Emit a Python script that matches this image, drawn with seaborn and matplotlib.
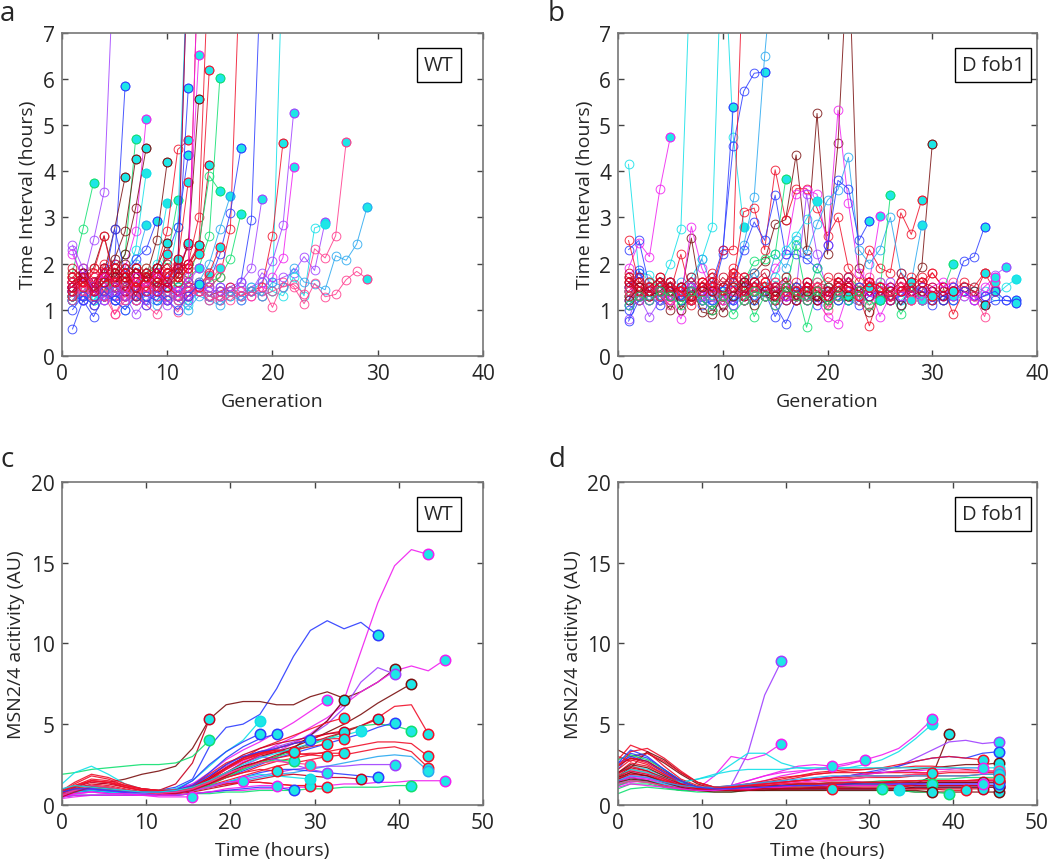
import matplotlib
matplotlib.use("Agg")
import matplotlib.pyplot as plt
import seaborn as sns

sns.set_style("ticks")
plt.rcParams["font.family"] = ["Open Sans", "DejaVu Sans"]

COL = {
    "red": "#f0102a", "pink": "#ff3a8c", "mag": "#f020f0", "pur": "#a040ff",
    "blue": "#2c3cff", "sky": "#28a8f0", "cyan": "#10e0e8", "green": "#10e070",
    "brown": "#7a1010", "dred": "#c80020",
}
END_FILL = "#1ee6e6"

# ---- panel a: WT, time interval per generation ----
A_COLORS = ["pur", "green", "blue", "green", "brown", "brown", "mag", "brown", "cyan", "sky",
            "blue", "brown", "cyan", "red", "green", "cyan", "blue", "blue", "red", "mag",
            "brown", "red", "red", "dred", "green", "green", "red", "sky", "blue", "green",
            "blue", "pur", "cyan", "red", "pur", "mag", "pur", "cyan", "pink", "sky",
            "pink", "blue",
            "dred", "red", "pink", "brown", "dred", "red", "mag", "pink", "dred", "red",
            "blue", "pur", "red", "dred"]
A_CELLS = [
    [2.3, 1.6, 2.5, 3.55, 9.0],
    [1.8, 2.75, 3.75],
    [1.5, 1.8, 1.6, 1.9, 2.0, 5.85],
    [1.4, 1.6, 1.5, 1.7, 1.8, 2.2, 4.7],
    [1.6, 1.7, 1.5, 1.8, 2.75, 3.87],
    [1.5, 1.8, 1.6, 1.7, 2.1, 2.7, 4.27],
    [1.4, 1.6, 1.3, 1.5, 1.7, 1.9, 2.7, 5.12],
    [1.7, 1.5, 1.6, 1.9, 1.8, 2.2, 3.2, 4.5],
    [1.3, 1.4, 1.2, 1.6, 1.5, 1.7, 2.3, 3.95],
    [1.2, 1.5, 1.4, 1.3, 1.6, 1.8, 2.0, 2.83],
    [1.3, 1.2, 1.4, 1.6, 2.75, 1.8, 2.1, 2.3, 2.93],
    [1.5, 1.7, 1.6, 1.4, 1.8, 1.5, 1.9, 1.7, 2.5, 4.2],
    [1.2, 1.4, 1.3, 1.5, 1.4, 1.6, 1.5, 1.8, 2.0, 3.32],
    [1.4, 1.6, 1.5, 1.3, 1.7, 1.6, 1.4, 1.8, 1.9, 2.7, 4.47, 4.67],
    [1.5, 1.3, 1.6, 1.4, 1.5, 1.7, 1.6, 1.9, 1.8, 2.1, 3.37],
    [1.3, 1.5, 1.4, 1.6, 1.5, 1.4, 1.7, 1.5, 1.8, 1.6, 2.8, 9.0],
    [1.5, 1.7, 1.4, 1.6, 1.3, 1.5, 1.8, 1.6, 1.9, 1.7, 2.0, 5.8],
    [1.2, 1.4, 1.6, 1.3, 1.5, 1.4, 1.6, 1.5, 1.7, 2.2, 2.8, 4.35],
    [1.6, 1.8, 1.5, 1.7, 1.4, 1.6, 1.9, 1.7, 1.6, 1.8, 2.0, 3.77],
    [1.4, 1.6, 1.3, 1.5, 1.7, 1.4, 1.6, 1.5, 1.8, 1.7, 1.9, 2.4, 6.52],
    [1.5, 1.7, 1.6, 1.4, 1.6, 1.8, 1.5, 1.7, 1.9, 1.6, 1.8, 2.4, 5.57],
    [1.6, 1.5, 1.7, 1.4, 1.6, 1.5, 1.8, 1.7, 1.5, 1.9, 1.8, 2.0, 3.0, 9.0],
    [1.4, 1.6, 1.5, 1.3, 1.5, 1.7, 1.4, 1.6, 1.5, 1.8, 1.6, 1.9, 2.4, 6.2],
    [1.3, 1.5, 1.4, 1.6, 1.7, 1.5, 1.4, 1.6, 1.8, 1.5, 1.7, 2.0, 2.3, 4.13],
    [1.3, 1.5, 1.4, 1.6, 1.5, 1.4, 1.6, 1.7, 1.5, 1.6, 1.8, 1.7, 1.9, 2.6, 6.02],
    [1.4, 1.3, 1.5, 1.4, 1.6, 1.5, 1.3, 1.5, 1.6, 1.7, 1.5, 1.6, 2.4, 3.9, 3.57],
    [1.5, 1.6, 1.4, 1.5, 1.3, 1.6, 1.5, 1.4, 1.6, 1.5, 1.7, 1.5, 1.6, 1.5, 1.7, 2.75, 9.0],
    [1.2, 1.4, 1.3, 1.2, 1.4, 1.3, 1.5, 1.4, 1.3, 1.4, 1.5, 1.4, 1.6, 2.0, 2.75, 3.47],
    [1.3, 1.2, 1.4, 1.3, 1.5, 1.4, 1.2, 1.4, 1.3, 1.5, 1.4, 1.3, 1.5, 1.6, 2.2, 3.1, 4.5],
    [1.4, 1.5, 1.3, 1.4, 1.6, 1.5, 1.4, 1.3, 1.5, 1.4, 1.6, 1.5, 1.4, 1.6, 1.7, 2.1, 3.07],
    [1.4, 1.3, 1.5, 1.4, 1.3, 1.5, 1.4, 1.6, 1.5, 1.3, 1.4, 1.5, 1.4, 1.3, 1.5, 1.4, 1.6, 2.95, 9.0],
    [1.5, 1.4, 1.6, 1.3, 1.5, 1.4, 1.3, 1.5, 1.4, 1.6, 1.3, 1.4, 1.5, 1.4, 1.3, 1.5, 1.6, 1.9, 3.4],
    [1.3, 1.4, 1.2, 1.4, 1.3, 1.2, 1.4, 1.3, 1.2, 1.4, 1.3, 1.5, 1.4, 1.3, 1.4, 1.3, 1.5, 1.4, 1.6, 1.4, 9.0],
    [1.3, 1.5, 1.4, 1.3, 1.5, 1.4, 1.6, 1.3, 1.4, 1.5, 1.3, 1.4, 1.5, 1.3, 1.4, 1.5, 1.3, 1.4, 1.5, 2.6, 4.62],
    [1.4, 1.2, 1.3, 1.5, 1.4, 1.3, 1.2, 1.4, 1.3, 1.5, 1.4, 1.2, 1.4, 1.3, 1.5, 1.4, 1.3, 1.5, 1.6, 2.05, 2.83, 5.25],
    [1.5, 1.3, 1.4, 1.2, 1.3, 1.4, 1.5, 1.3, 1.4, 1.2, 1.3, 1.5, 1.4, 1.3, 1.2, 1.4, 1.5, 1.3, 1.4, 1.7, 2.13, 4.1],
    [1.4, 1.3, 1.5, 1.4, 1.3, 1.2, 1.4, 1.3, 1.5, 1.4, 1.3, 1.2, 1.4, 1.5, 1.3, 1.4, 1.2, 1.4, 1.8, 1.6,
     1.7, 1.8, 2.15, 1.85, 2.9],
    [1.3, 1.4, 1.2, 1.3, 1.5, 1.4, 1.2, 1.3, 1.4, 1.2, 1.3, 1.1, 1.4, 1.3, 1.2, 1.4, 1.3, 1.5, 1.3, 1.4,
     1.3, 1.7, 1.3, 2.77, 2.85],
    [1.4, 1.3, 1.5, 1.4, 1.2, 1.3, 1.4, 1.5, 1.3, 1.4, 1.2, 1.3, 1.4, 1.3, 1.2, 1.4, 1.3, 1.4, 1.3, 1.4,
     1.5, 1.55, 1.35, 2.32, 2.12, 2.6, 4.63],
    [1.2, 1.3, 1.1, 1.3, 1.2, 1.0, 1.3, 1.2, 1.1, 1.3, 1.2, 1.0, 1.3, 1.2, 1.1, 1.3, 1.2, 1.4, 1.3, 1.6,
     1.5, 1.9, 1.6, 1.55, 1.43, 2.17, 2.07, 2.42, 3.23],
    [1.6, 1.4, 1.3, 1.5, 0.9, 1.3, 1.2, 1.4, 1.3, 1.2, 0.95, 1.3, 1.4, 1.2, 1.3, 1.2, 1.4, 1.3, 1.5, 1.05,
     1.6, 1.5, 1.13, 1.57, 1.28, 1.33, 1.65, 1.83, 1.67],
    [0.58, 1.2, 0.85, 1.3, 1.2, 1.5, 1.4, 1.3, 1.2, 1.5, 1.9, 9.0],
    [1.7, 1.9, 1.6, 1.8, 1.5, 1.7, 1.9, 1.6, 1.8, 2.0, 1.7, 2.45],
    [1.5, 1.8, 1.3, 1.6, 1.9, 1.4, 1.7, 1.5, 1.9, 1.6, 2.0, 1.8, 9.0],
    [1.2, 1.4, 1.1, 1.3, 0.9, 1.2, 1.4, 1.1, 0.9, 1.3, 1.2, 1.4, 1.5, 1.75],
    [1.6, 1.8, 1.9, 2.6, 1.7, 2.0, 1.8, 1.6, 1.9, 2.45],
    [1.4, 1.7, 1.5, 1.8, 1.6, 1.4, 1.8, 1.7, 1.5, 1.8, 1.9, 2.0, 2.4],
    [1.8, 1.6, 1.9, 1.7, 2.0, 1.8, 1.6, 1.9, 1.7, 2.2],
    [2.2, 1.7, 1.5, 1.8, 1.6, 1.3, 1.7, 1.5, 1.8, 1.6, 1.4, 1.7, 9.0],
    [1.6, 1.4, 1.7, 1.3, 1.6, 1.5, 1.2, 1.6, 1.4, 1.7, 1.3, 1.5, 1.4, 1.6, 1.9],
    [1.9, 1.7, 1.5, 1.9, 1.6, 1.8, 1.5, 1.7, 1.9, 1.6, 2.1],
    [1.3, 1.6, 1.4, 2.0, 1.5, 1.3, 1.6, 1.4, 1.7, 1.5, 1.3, 1.6, 1.5, 1.8, 2.35],
    [1.0, 1.3, 1.1, 1.4, 1.2, 1.0, 1.3, 1.1, 1.4, 1.2, 1.0, 1.3, 1.55],
    [2.4, 1.9, 1.4, 1.2, 1.5, 1.3, 0.9, 1.2, 1.4, 1.1, 1.3, 1.6, 1.9],
    [1.7, 1.5, 1.8, 2.6, 1.6, 1.9, 1.5, 1.7, 1.4, 1.8, 1.6, 1.9, 2.2],
    [1.5, 1.7, 1.4, 1.6, 1.9, 1.7, 1.3, 1.8, 1.6, 1.5, 1.8, 9.0],
]

# ---- panel b: D fob1, time interval per generation ----
B_COLORS = ["cyan", "mag", "cyan", "blue", "blue", "sky", "red", "brown", "red", "mag",
            "sky", "blue", "green", "green", "blue", "pur", "cyan", "blue", "green", "cyan",
            "mag", "red", "brown", "pink", "pur", "red", "green", "blue", "dred", "mag",
            "dred", "red", "pink", "brown", "dred", "red", "green"]
B_CELLS = [
    [4.15, 1.8, 1.75, 1.5, 2.0, 2.75, 9.0],
    [1.9, 2.45, 2.15, 3.62, 4.75],
    [1.3, 1.5, 1.4, 1.6, 1.5, 1.4, 1.7, 2.1, 2.8, 9.5, 4.75, 2.8],
    [2.3, 2.5, 1.5, 1.4, 1.3, 1.4, 1.2, 1.5, 1.3, 2.2, 5.4],
    [1.2, 1.85, 1.4, 1.5, 1.6, 1.3, 1.4, 1.5, 1.6, 2.3, 4.55, 5.73, 6.12, 6.15],
    [1.5, 1.4, 1.3, 1.5, 1.2, 1.6, 1.4, 1.3, 1.5, 1.4, 1.6, 2.4, 3.45, 6.5, 9.0],
    [2.5, 1.6, 1.4, 1.5, 1.3, 1.4, 1.2, 1.5, 1.4, 2.3, 2.3, 9.0],
    [1.6, 1.4, 1.3, 1.5, 1.4, 1.3, 2.55, 1.2, 1.0, 1.3, 1.5, 1.7, 1.8, 2.05, 2.85, 2.95, 4.35, 2.3, 5.25, 2.2,
     4.6, 9.0, 1.9, 1.4, 1.3, 1.2, 1.4, 1.5, 1.93, 4.58],
    [1.4, 1.3, 1.5, 1.2, 1.4, 2.2, 1.3, 1.4, 1.5, 1.3, 1.6, 3.12, 3.2, 2.3, 4.03, 2.95, 3.62, 3.62, 3.2, 2.6,
     3.0, 1.9, 1.6, 2.3, 1.9, 1.8, 3.1, 2.63, 3.38],
    [1.7, 1.5, 1.4, 1.3, 1.6, 1.2, 2.8, 1.9, 1.4, 1.5, 1.3, 1.6, 1.5, 1.4, 1.9, 2.2, 3.5, 3.6, 3.5, 2.4,
     5.32, 3.3, 1.8, 1.6, 3.02],
    [1.4, 1.3, 1.5, 1.4, 1.6, 1.3, 1.5, 2.1, 1.5, 1.4, 1.6, 1.5, 1.8, 1.4, 2.2, 1.9, 2.5, 2.2, 2.85, 3.37,
     3.6, 4.3, 2.3, 2.0, 2.3, 3.0, 1.8, 1.6, 2.83],
    [1.5, 1.8, 1.4, 1.5, 1.3, 1.4, 1.5, 1.3, 1.4, 1.5, 1.6, 2.3, 2.9, 2.5, 3.48, 2.2, 2.2, 2.1, 1.9, 2.4,
     3.8, 3.62, 2.5, 2.92],
    [1.5, 1.4, 1.3, 1.5, 1.4, 1.3, 1.6, 1.2, 1.4, 1.3, 1.5, 1.6, 2.05, 2.1, 2.2, 3.82],
    [1.3, 1.5, 1.4, 1.2, 1.4, 1.5, 1.3, 1.4, 1.2, 1.5, 1.3, 1.4, 1.3, 1.5, 1.4, 1.7, 1.5, 1.3, 1.6, 1.5,
     1.4, 1.7, 1.5, 1.3, 1.4, 3.48],
    [1.1, 1.3, 1.2, 1.4, 1.3, 1.5, 1.2, 1.4, 1.3, 1.1, 1.4, 1.2, 1.5, 1.3, 1.2, 1.4, 1.3, 1.5, 1.2, 1.4,
     1.3, 1.2, 1.5, 1.3, 1.4, 1.2, 1.3, 1.4, 1.5, 1.3, 1.2, 1.4, 2.05, 2.15, 2.8],
    [0.8, 1.4, 1.2, 1.3, 1.5, 1.2, 1.4, 1.3, 1.1, 1.4, 1.3, 1.2, 1.5, 1.4, 1.2, 1.3, 1.5, 1.2, 1.4, 1.3,
     1.2, 1.5, 1.3, 1.4, 1.2, 1.3, 1.5, 1.4, 1.2, 1.3, 1.4, 1.2, 1.5, 1.4, 1.3, 1.75, 1.92],
    [1.2, 1.3, 1.5, 1.4, 1.2, 1.5, 1.3, 1.4, 1.2, 1.3, 1.5, 1.4, 1.2, 1.4, 1.3, 1.5, 1.2, 1.4, 1.3, 1.5,
     1.4, 1.2, 1.3, 1.5, 1.4, 1.3, 1.2, 1.4, 1.5, 1.3, 1.4, 1.2, 1.3, 1.5, 1.4, 1.3, 1.5, 1.67],
    [1.0, 1.2, 1.3, 1.1, 1.3, 1.2, 1.4, 1.1, 1.2, 1.3, 1.1, 1.4, 1.2, 1.3, 1.1, 0.7, 1.2, 1.3, 1.1, 1.2,
     1.4, 1.2, 1.1, 1.3, 1.2, 1.4, 1.1, 1.3, 1.2, 1.1, 1.3, 1.2, 1.4, 1.3, 1.1, 1.2, 1.2, 1.2],
    [1.4, 1.2, 1.5, 1.3, 1.4, 1.2, 1.5, 1.3, 1.4, 1.2, 1.3, 1.5, 0.85, 1.3, 1.4, 1.2, 1.5, 0.62, 1.4, 1.3,
     1.2, 1.4, 1.3, 1.5, 1.2, 1.4, 0.9, 1.3, 1.5, 1.2, 1.4, 2.0],
    [1.4, 1.3, 1.5, 1.2, 1.4, 1.3, 1.5, 1.4, 1.3, 1.5, 1.2, 1.4, 1.6, 1.5, 1.7, 2.3, 2.6, 2.97, 3.35],
    [1.5, 1.3, 1.2, 1.4, 1.3, 0.8, 1.4, 1.2, 1.5, 1.3, 1.4, 1.2, 1.5, 1.3, 1.4, 1.6, 1.3, 1.5, 1.2, 0.85,
     0.7, 1.4, 1.3, 1.5, 0.85, 1.3, 1.4, 1.2, 1.5, 1.4, 1.3, 1.5, 1.4, 1.2, 1.3, 1.45],
    [1.6, 1.4, 1.5, 1.3, 1.6, 1.4, 1.2, 1.5, 1.4, 1.3, 1.7, 1.5, 1.4, 1.3, 1.6, 1.5, 1.4, 1.3, 1.2, 1.5,
     1.4, 1.6, 1.3, 0.65, 1.4, 1.3, 1.5, 1.2, 1.4, 1.8, 1.5, 0.9, 1.4, 1.3, 1.8, 1.4],
    [1.7, 1.5, 1.4, 1.3, 1.0, 1.4, 1.5, 0.95, 0.9, 1.3, 1.5, 1.4, 1.6, 1.3, 1.2, 1.5, 1.4, 1.3, 1.2, 1.4,
     1.5, 1.3, 1.2, 0.95, 1.3, 1.4, 1.1, 1.5, 1.3, 1.4, 1.2, 1.3, 1.5, 1.4, 1.1],
    [1.3, 1.5, 1.6, 1.4, 1.2, 1.5, 1.3, 1.6, 1.4, 1.2, 1.5, 1.7, 1.3, 1.4, 1.6, 1.5, 1.3, 1.4, 1.6, 1.5,
     1.3, 1.4, 1.5, 1.7, 1.3, 1.4, 1.6, 1.5, 1.4, 1.3, 1.5, 1.6, 1.4, 1.3, 0.85, 1.6],
    [1.1, 1.3, 0.85, 1.2, 1.4, 1.3, 1.5, 1.2, 1.4, 1.3, 1.1, 1.6, 1.4, 1.3, 1.5, 1.2, 1.4, 3.5, 2.2, 1.4,
     1.3, 1.5, 1.2, 1.4, 1.3, 1.6, 1.4, 1.3, 1.5, 1.2, 1.4, 1.3],
    [1.4, 1.6, 1.5, 1.7, 1.4, 1.5, 1.3, 1.6, 1.8, 1.5, 1.9, 1.7, 1.4, 1.6, 1.5, 1.3, 1.6, 1.4, 1.5, 1.7,
     1.6, 1.5, 1.4, 1.6, 1.5, 1.3, 1.4, 1.7, 1.6, 1.8, 1.5, 1.4, 1.6, 1.5, 1.8],
    [1.3, 1.4, 1.6, 1.5, 1.3, 1.4, 1.2, 1.5, 1.4, 1.3, 1.5, 1.2, 1.4, 1.3, 1.5, 1.4, 2.4, 1.3, 1.9, 1.5,
     1.4, 1.3, 1.2, 1.5, 1.6, 1.4, 1.3, 1.5, 1.2],
    [0.75, 1.2, 1.4, 1.3, 1.5, 1.2, 1.4, 1.3, 1.5, 1.4, 1.2, 1.3, 1.5, 1.4, 0.85, 1.3, 1.5, 1.2, 1.4, 1.3,
     1.2, 1.4, 1.5, 1.3, 1.4, 1.2, 1.3, 1.5, 1.4, 1.3, 1.2, 1.5, 1.4, 1.2, 1.3, 1.4, 1.2, 1.15],
    [1.8, 1.5, 1.4, 1.6, 1.5, 1.3, 1.4, 1.5, 1.7, 1.3, 1.4, 1.6, 1.5, 1.4, 1.3, 1.2, 1.4, 1.5, 1.3, 1.4,
     1.6, 1.5, 1.4, 1.3, 1.5, 1.4, 1.6, 1.3, 1.4, 1.2, 1.5, 1.4],
    [1.2, 1.4, 1.3, 1.5, 1.2, 1.4, 1.6, 1.3, 1.5, 1.2, 1.4, 1.3, 1.6, 1.4, 1.5, 1.3, 1.2, 1.6, 1.4, 1.3,
     1.5, 1.7, 1.3, 1.4, 1.6, 1.5, 1.3, 1.4, 1.2, 1.5, 1.6, 1.4, 1.3, 1.2, 1.5, 1.7],
    [1.5, 1.7, 1.4, 1.6, 1.3, 1.5, 1.7, 1.4, 1.6, 1.5, 1.8, 1.3, 1.6, 1.4, 1.5, 1.7, 1.2, 1.6, 1.4, 1.5,
     1.3, 1.7, 1.4, 1.6, 1.5, 1.3, 1.8, 1.4, 1.6, 1.5, 1.3, 1.4],
    [1.3, 1.4, 1.6, 1.3, 1.5, 1.4, 1.1, 1.4, 1.6, 1.3, 1.5, 1.2, 1.4, 1.6, 1.3, 1.5, 1.4, 1.2, 1.5, 1.3,
     1.6, 1.4, 1.3, 1.5],
    [1.4, 1.2, 1.5, 1.3, 1.1, 1.4, 1.2, 1.5, 1.3, 1.1, 1.4, 1.2, 1.5, 1.3, 1.1, 1.4, 1.2, 1.3, 1.5, 1.0,
     1.3, 1.4, 1.2, 1.1, 1.4, 1.3, 1.5, 1.2],
    [1.2, 1.5, 1.3, 1.4, 1.6, 1.0, 1.3, 1.5, 1.4, 0.95, 1.3, 1.6, 1.1, 1.4, 1.3, 1.5, 1.2, 1.4, 1.3, 1.1,
     1.5, 1.3],
    [1.6, 1.3, 1.5, 1.7, 1.4, 1.5, 1.3, 1.6, 1.4, 1.7, 1.5, 1.3, 1.6, 1.8, 1.4, 1.5, 1.3, 1.6, 1.4, 1.3,
     1.7, 1.5, 1.4, 1.6, 1.3, 1.5, 1.4, 1.6],
    [1.7, 1.4, 1.3, 1.5, 1.6, 1.4, 1.2, 1.6, 1.5, 1.3, 1.8, 1.4, 1.5, 1.6, 1.2, 1.4, 1.3, 1.5, 1.4, 1.2,
     1.5, 1.4, 1.3, 1.6, 1.5, 1.2, 1.4, 1.5, 1.7, 1.3],
    [1.1, 1.3, 1.2, 1.4, 1.3, 1.1, 1.4, 1.2, 1.0, 1.3, 0.9, 1.2, 1.4, 1.3, 1.1, 1.5, 1.3, 1.2, 1.4, 1.1,
     1.3, 1.2, 1.4, 1.1, 1.2],
]

# ---- panels c, d: MSN2/4 activity sampled on a common time grid (hours) ----
T_GRID = [0, 1.5, 3.5, 5.5, 7.5, 9.5, 11.5, 13.5, 15.5, 17.5, 19.5, 21.5, 23.5, 25.5, 27.5,
          29.5, 31.5, 33.5, 35.5, 37.5, 39.5, 41.5, 43.5, 45.5]

C_COLORS = ["mag", "blue", "brown", "dred", "green", "mag", "pur", "brown", "red", "mag",
            "brown", "green", "blue", "red", "red", "sky", "mag", "green", "pur", "blue",
            "dred", "red", "cyan", "blue", "blue", "blue", "red", "red", "red", "red",
            "green", "cyan", "mag", "mag", "dred", "red",
            "red", "dred", "red", "mag", "pur", "dred", "red", "pink", "blue", "cyan"]
C_CELLS = [
    [0.6, 0.8, 1.0, 0.9, 0.8, 0.7, 0.7, 0.8, 1.0, 1.4, 1.9, 2.4, 2.9, 3.3, 3.8, 4.4, 5.2, 6.5, 9.5, 12.5, 14.8, 15.8, 15.5],
    [1.0, 1.1, 1.2, 1.0, 0.9, 0.8, 0.9, 1.1, 1.6, 3.6, 4.8, 5.0, 5.6, 7.2, 9.2, 10.8, 11.4, 10.9, 11.3, 10.5],
    [0.6, 0.9, 1.2, 1.4, 1.6, 1.9, 2.1, 2.4, 3.5, 5.3, 6.2, 6.4, 6.4, 6.2, 6.2, 6.7, 7.0, 6.6, 7.0, 7.6, 8.4],
    [0.7, 0.9, 1.0, 0.9, 0.8, 0.8, 0.9, 1.3, 2.6, 5.3],
    [1.9, 2.0, 2.2, 2.3, 2.4, 2.5, 2.5, 2.6, 3.0, 4.0],
    [0.9, 1.2, 1.1, 0.9, 0.8, 0.8, 0.8, 0.9, 1.2, 1.6, 2.2, 2.7, 3.2, 3.7, 4.2, 4.8, 5.4, 6.2, 7.0, 7.6, 8.3, 8.6, 8.3, 9.0],
    [0.7, 0.9, 1.0, 0.9, 0.8, 0.8, 0.8, 1.0, 1.3, 1.8, 2.4, 2.9, 3.3, 3.6, 3.9, 4.3, 5.0, 6.0, 7.6, 8.5, 8.1],
    [0.5, 0.8, 1.0, 0.9, 0.8, 0.7, 0.7, 0.8, 1.0, 1.5, 2.0, 2.6, 3.0, 3.3, 3.6, 4.0, 4.5, 5.0, 5.6, 6.3, 6.9, 7.5],
    [0.6, 0.9, 1.1, 1.0, 0.9, 0.8, 0.8, 0.9, 1.2, 1.7, 2.3, 2.8, 3.2, 3.5, 3.8, 4.1, 4.4, 4.6, 4.9, 5.4, 6.1, 6.2, 4.4],
    [0.5, 0.7, 0.8, 0.8, 0.7, 0.7, 0.7, 0.9, 1.3, 2.0, 2.8, 3.4, 3.9, 4.5, 5.1, 5.8, 6.5],
    [0.8, 1.0, 1.1, 1.0, 0.9, 0.8, 0.8, 0.9, 1.1, 1.5, 2.0, 2.4, 2.7, 3.0, 3.5, 4.3, 5.2, 6.5],
    [0.8, 1.0, 1.0, 0.9, 0.8, 0.8, 0.8, 0.9, 1.1, 1.4, 1.8, 2.2, 2.6, 3.0, 3.3, 3.7, 4.1, 4.5, 4.9, 5.0, 4.9, 4.6],
    [0.6, 0.8, 0.9, 0.8, 0.8, 0.7, 0.7, 0.8, 1.0, 1.3, 1.7, 2.1, 2.5, 2.9, 3.2, 3.5, 3.8, 4.1, 4.4, 4.8, 5.1],
    [0.7, 1.0, 1.2, 1.1, 0.9, 0.8, 0.8, 0.8, 1.0, 1.3, 1.7, 2.0, 2.4, 2.7, 2.9, 3.1, 3.3, 3.5, 3.7, 3.9, 3.9, 3.8, 3.0],
    [0.5, 0.8, 1.0, 0.9, 0.8, 0.7, 0.7, 0.8, 0.9, 1.2, 1.5, 1.8, 2.1, 2.4, 2.6, 2.8, 3.0, 3.1, 3.3, 3.5, 3.6, 3.3, 2.3],
    [0.9, 1.1, 1.2, 1.0, 0.9, 0.8, 0.8, 0.8, 0.9, 1.1, 1.3, 1.5, 1.7, 1.9, 2.0, 2.2, 2.4, 2.6, 2.8, 3.0, 3.1, 3.0, 2.1],
    [0.4, 0.5, 0.6, 0.6, 0.6, 0.6, 0.6, 0.6, 0.7, 0.8, 0.9, 0.9, 1.0, 1.0, 1.1, 1.1, 1.2, 1.3, 1.3, 1.4, 1.4, 1.5, 1.5, 1.5],
    [0.5, 0.6, 0.6, 0.6, 0.6, 0.6, 0.6, 0.6, 0.7, 0.7, 0.8, 0.8, 0.9, 0.9, 0.9, 1.0, 1.0, 1.1, 1.1, 1.1, 1.2, 1.2],
    [0.8, 1.0, 1.0, 0.9, 0.8, 0.8, 0.8, 0.9, 1.0, 1.2, 1.4, 1.6, 1.8, 2.0, 2.2, 2.3, 2.4, 2.4, 2.5, 2.5, 2.5],
    [0.7, 0.9, 0.9, 0.8, 0.8, 0.7, 0.7, 0.8, 0.9, 1.1, 1.4, 1.7, 2.0, 2.2, 2.2, 2.1, 2.0, 1.9, 1.8, 1.7],
    [0.6, 0.8, 0.9, 0.9, 0.8, 0.7, 0.7, 0.7, 0.8, 1.0, 1.2, 1.4, 1.6, 1.8, 1.9, 1.8, 1.7, 1.7, 1.6],
    [0.6, 0.9, 1.1, 1.0, 0.9, 0.8, 0.8, 0.8, 0.9, 1.1, 1.3, 1.4, 1.4, 1.3, 1.2, 1.2, 1.1],
    [1.3, 2.0, 2.4, 1.9, 1.3, 1.0, 0.9, 1.0, 1.5, 2.4, 3.3, 4.0, 5.2],
    [0.6, 0.8, 0.9, 0.8, 0.7, 0.7, 0.7, 0.9, 1.5, 2.5, 3.3, 3.9, 4.4],
    [0.7, 0.9, 1.0, 0.9, 0.8, 0.7, 0.7, 0.8, 1.2, 2.0, 2.9, 3.6, 4.1, 4.4],
    [0.5, 0.6, 0.6, 0.6, 0.6, 0.6, 0.6, 0.6, 0.7, 0.8, 0.9, 1.0, 1.1, 1.1, 0.9],
    [0.7, 1.0, 1.1, 1.0, 0.9, 0.8, 0.8, 0.8, 0.9, 1.1, 1.3, 1.4, 1.4, 1.3, 1.2, 1.2],
    [0.8, 1.2, 1.6, 1.5, 1.2, 1.0, 0.9, 0.9, 1.1, 1.6, 2.3, 2.9, 3.5, 3.9, 4.3, 4.7, 5.1, 5.4],
    [0.9, 1.4, 1.9, 1.7, 1.3, 1.0, 0.9, 0.9, 1.0, 1.3, 1.8, 2.3, 2.7, 2.9, 3.1, 3.2, 3.2, 3.2],
    [0.6, 1.1, 1.5, 1.4, 1.1, 0.9, 0.8, 0.8, 1.0, 1.5, 2.2, 2.8, 3.1, 3.3, 3.4, 3.6, 3.8],
    [0.7, 1.0, 1.2, 1.1, 0.9, 0.8, 0.8, 0.8, 0.9, 1.2, 1.7, 2.2, 2.6, 2.8, 2.7],
    [0.6, 0.8, 0.9, 0.8, 0.7, 0.7, 0.7, 0.8, 0.9, 1.1, 1.4, 1.7, 1.9, 1.8, 1.7, 1.6],
    [0.5, 0.7, 0.8, 0.7, 0.7, 0.6, 0.6, 0.7, 0.9, 1.1, 1.4, 1.5],
    [0.5, 0.6, 0.6, 0.6, 0.6, 0.6, 0.5, 0.5, 0.5],
    [0.7, 1.1, 1.4, 1.3, 1.1, 0.9, 0.8, 0.8, 1.0, 1.6, 2.3, 2.9, 3.3, 3.4, 3.3],
    [0.8, 1.3, 1.8, 1.6, 1.2, 1.0, 0.9, 0.9, 1.0, 1.3, 1.7, 2.0, 2.2, 2.1],
    [0.7, 1.0, 1.3, 1.2, 1.0, 0.8, 0.8, 0.9, 1.2, 1.9, 2.6, 3.0, 3.2, 3.3, 3.2, 3.1, 3.0],
    [0.6, 0.9, 1.2, 1.1, 0.9, 0.8, 0.7, 0.8, 1.1, 1.7, 2.5, 3.1, 3.5, 3.8, 4.0, 4.2, 4.4, 4.5],
    [0.8, 1.2, 1.5, 1.4, 1.1, 0.9, 0.8, 0.8, 1.0, 1.5, 2.3, 2.9, 3.2, 3.4, 3.3],
    [0.6, 0.7, 0.8, 0.7, 0.7, 0.6, 0.6, 0.6, 0.7, 0.8, 1.0, 1.1, 1.2, 1.2],
    [0.7, 0.9, 1.0, 0.9, 0.8, 0.7, 0.7, 0.8, 1.0, 1.4, 2.0, 2.6, 3.0, 2.8, 2.5, 2.2, 2.0],
    [0.5, 0.8, 1.1, 1.0, 0.9, 0.8, 0.7, 0.7, 0.9, 1.3, 1.8, 2.3, 2.7, 3.1, 3.4, 3.8, 4.2, 4.5, 4.9, 5.3],
    [0.7, 1.1, 1.5, 1.4, 1.2, 1.0, 0.9, 0.9, 1.0, 1.4, 2.0, 2.6, 3.1, 3.5, 3.8, 4.0, 4.1, 4.1],
    [0.6, 0.9, 1.2, 1.1, 0.9, 0.8, 0.7, 0.8, 1.0, 1.4, 1.9, 2.3, 2.6, 2.7, 2.6, 2.5],
    [0.8, 1.0, 1.0, 0.9, 0.8, 0.8, 0.8, 0.9, 1.2, 1.8, 2.5, 3.0, 3.3, 3.5, 3.8, 4.0],
    [1.0, 1.2, 1.1, 1.0, 0.9, 0.8, 0.8, 0.9, 1.1, 1.5, 2.0, 2.5, 2.9, 3.2, 3.5, 3.8, 4.1, 4.3, 4.6],
]

D_COLORS = ["pur", "mag", "cyan", "mag", "brown", "pur", "blue", "red", "brown", "red",
            "mag", "brown", "green", "red", "mag", "mag", "red", "green", "cyan", "red",
            "green", "brown", "red", "mag", "blue", "red", "green", "cyan",
            "dred", "red", "brown", "dred", "red", "pink", "brown", "dred", "mag", "sky",
            "blue", "red"]
D_CELLS = [
    [1.8, 2.1, 1.9, 1.6, 1.3, 1.1, 1.0, 1.2, 3.2, 6.8, 8.9],
    [1.5, 1.7, 1.6, 1.4, 1.2, 1.0, 1.8, 3.0, 2.8, 3.1, 3.8],
    [2.0, 2.4, 2.2, 1.8, 1.4, 1.6, 1.8, 2.5, 3.2, 3.2, 2.6, 2.3, 2.2, 2.2, 2.3, 2.5, 2.8, 3.3, 4.1, 5.0],
    [1.2, 1.4, 1.5, 1.3, 1.1, 1.0, 1.0, 1.1, 1.3, 1.5, 1.8, 2.0, 2.2, 2.4, 2.6, 2.8, 3.1, 3.5, 4.3, 5.3],
    [3.4, 3.0, 3.2, 2.6, 1.9, 1.3, 1.0, 1.0, 1.0, 1.1, 1.1, 1.1, 1.1, 1.2, 1.2, 1.2, 1.2, 1.2, 1.3, 1.8, 4.4],
    [1.6, 1.8, 1.7, 1.4, 1.2, 1.0, 1.0, 1.1, 1.2, 1.3, 1.4, 1.5, 1.6, 1.7, 1.8, 1.9, 2.1, 2.4, 2.9, 3.4, 3.9, 4.0, 3.8, 3.9],
    [2.2, 3.2, 2.9, 2.2, 1.5, 1.1, 1.0, 1.1, 1.2, 1.3, 1.4, 1.5, 1.6, 1.7, 1.8, 2.0, 2.2, 2.4, 2.7, 2.9, 3.0, 2.9, 3.2, 3.3],
    [2.8, 3.7, 3.3, 2.4, 1.6, 1.2, 1.1, 1.2, 1.3, 1.4, 1.5, 1.7, 1.9, 2.0, 2.1, 2.2, 2.3, 2.5, 2.7, 2.9, 3.0, 2.9, 2.8],
    [1.8, 2.3, 3.3, 2.8, 2.0, 1.4, 1.1, 1.1, 1.2, 1.3, 1.4, 1.5, 1.6, 1.7, 1.8, 1.9, 2.0, 2.1, 2.2, 2.3, 2.4, 2.5, 2.5, 2.6],
    [2.5, 2.9, 2.6, 2.0, 1.5, 1.1, 1.0, 1.1, 1.2, 1.4, 1.6, 1.8, 2.0, 2.1, 2.2, 2.2, 2.3, 2.3, 2.4, 2.4, 2.3, 2.2, 2.1, 2.1],
    [1.2, 1.5, 1.4, 1.2, 1.0, 0.9, 0.9, 1.0, 1.1, 1.2, 1.3, 1.4, 1.5, 1.5, 1.5, 1.4, 1.4, 1.5, 1.5, 1.5, 1.5, 1.5, 1.5, 1.5],
    [1.5, 1.7, 1.5, 1.1, 0.9, 0.9, 0.9, 0.9, 0.9, 0.9, 0.9, 0.9, 0.9, 0.9, 0.9, 0.9, 0.9, 0.9, 0.8, 0.8, 0.8, 0.8, 0.8, 0.8],
    [0.7, 1.0, 1.1, 1.0, 0.9, 0.8, 0.8, 0.8, 0.9, 0.9, 0.9, 0.9, 0.9, 0.9, 0.9, 0.9, 0.9, 0.9, 0.8, 0.8, 0.7],
    [1.9, 2.4, 2.1, 1.6, 1.2, 1.0, 0.9, 1.0, 1.0, 1.0, 1.0, 1.0, 1.0, 1.0, 1.0, 1.0, 1.0, 1.0, 1.0, 1.0, 0.9, 0.9],
    [1.4, 1.7, 1.6, 1.3, 1.1, 1.0, 1.0, 1.2, 1.5, 1.8, 2.0, 2.1, 2.2, 2.3, 2.5, 2.8],
    [1.3, 1.5, 1.4, 1.2, 1.0, 1.0, 1.0, 1.2, 1.5, 1.8, 2.1, 2.4, 2.5, 2.4],
    [1.6, 2.0, 1.8, 1.4, 1.1, 0.9, 0.9, 0.9, 1.0, 1.0, 1.0, 1.0, 1.0, 1.0],
    [1.0, 1.3, 1.3, 1.1, 0.9, 0.9, 0.9, 1.0, 1.0, 1.1, 1.1, 1.1, 1.1, 1.1, 1.1, 1.0, 1.0],
    [1.3, 1.6, 1.5, 1.3, 1.1, 1.0, 1.0, 1.0, 1.0, 1.0, 1.0, 1.0, 1.0, 0.9, 0.9, 0.9, 0.9, 0.9],
    [2.0, 2.6, 2.4, 1.9, 1.4, 1.1, 1.0, 1.1, 1.3, 1.5, 1.7, 1.8, 1.9, 2.0, 2.0, 2.0, 2.0, 2.0, 2.0, 2.0],
    [1.2, 1.5, 1.4, 1.2, 1.0, 0.9, 0.9, 1.0, 1.1, 1.2, 1.2, 1.3, 1.3, 1.3, 1.3, 1.3, 1.3, 1.3, 1.3, 1.3],
    [2.0, 2.5, 2.3, 1.8, 1.3, 1.0, 0.9, 0.9, 0.9, 0.9, 0.9, 0.9, 0.9, 0.9, 0.9, 0.9, 0.9, 0.9, 0.9, 0.8],
    [1.7, 2.2, 2.0, 1.6, 1.2, 1.0, 0.9, 1.0, 1.0, 1.1, 1.1, 1.1, 1.1, 1.1, 1.2, 1.2, 1.2, 1.2, 1.2, 1.2, 1.2, 1.2, 1.2],
    [1.4, 1.8, 1.7, 1.4, 1.1, 1.0, 1.0, 1.1, 1.2, 1.3, 1.4, 1.5, 1.6, 1.7, 1.8, 1.9, 2.0, 2.1, 2.1, 2.2, 2.2, 2.3, 2.3],
    [2.6, 3.0, 2.7, 2.0, 1.4, 1.1, 1.0, 1.0, 1.0, 1.0, 1.0, 1.0, 1.0, 1.0, 1.0, 1.0, 1.0, 1.0, 1.1, 1.1, 1.1, 1.1, 1.1, 1.1],
    [3.0, 2.7, 3.2, 2.7, 2.0, 1.4, 1.1, 1.1, 1.2, 1.3, 1.4, 1.5, 1.6, 1.6, 1.6, 1.7, 1.7, 1.7, 1.8, 1.8, 1.8, 1.8, 1.9, 1.9],
    [2.8, 3.1, 2.8, 2.2, 1.5, 1.1, 1.0, 1.0, 1.1, 1.2, 1.2, 1.3, 1.3, 1.4, 1.4, 1.4, 1.5, 1.5, 1.5, 1.6, 1.6, 1.7, 1.7, 1.7],
    [1.8, 2.2, 2.0, 1.7, 1.4, 1.6, 1.9, 2.1, 2.2, 2.2, 2.2, 2.3, 2.3, 2.3, 2.3, 2.3, 2.3, 2.3, 2.3, 2.3, 2.3, 2.3, 2.3, 2.3],
    [1.6, 1.9, 1.8, 1.5, 1.2, 1.0, 0.9, 0.9, 1.0, 1.0, 1.0, 1.0, 1.1, 1.1, 1.1, 1.1, 1.1, 1.1, 1.2, 1.2, 1.2, 1.2, 1.2, 1.2],
    [2.2, 2.8, 2.5, 1.9, 1.3, 1.0, 0.9, 0.9, 1.0, 1.1, 1.2, 1.3, 1.3, 1.4, 1.4, 1.4, 1.4, 1.5, 1.5, 1.5, 1.5, 1.5, 1.5, 1.5],
    [1.4, 1.6, 1.5, 1.2, 1.0, 0.9, 0.8, 0.8, 0.9, 0.9, 1.0, 1.0, 1.0, 1.0, 1.0, 1.0, 1.0, 1.0, 1.1, 1.1, 1.1, 1.1, 1.1, 1.1],
    [2.4, 2.9, 2.7, 2.1, 1.5, 1.1, 1.0, 1.0, 1.0, 1.1, 1.1, 1.2, 1.2, 1.2, 1.3, 1.3, 1.3, 1.3, 1.3, 1.4, 1.4, 1.4, 1.4],
    [1.8, 2.1, 1.9, 1.5, 1.2, 1.0, 1.0, 1.1, 1.2, 1.3, 1.4, 1.5, 1.6, 1.7, 1.7, 1.8, 1.8, 1.8, 1.9, 1.9, 2.0, 2.0, 2.0, 2.0],
    [1.3, 1.5, 1.4, 1.2, 1.0, 0.9, 0.9, 1.0, 1.1, 1.2, 1.3, 1.4, 1.4, 1.5, 1.6, 1.7, 1.8, 1.8, 1.9, 2.0, 2.1, 2.1, 2.1, 2.1],
    [1.7, 2.0, 1.8, 1.4, 1.1, 0.9, 0.9, 1.0, 1.1, 1.2, 1.2, 1.3, 1.3, 1.3, 1.3, 1.4, 1.4, 1.4, 1.4, 1.4, 1.4, 1.4, 1.4, 1.4],
    [2.0, 2.3, 2.1, 1.7, 1.3, 1.0, 0.9, 0.9, 0.9, 1.0, 1.0, 1.0, 1.0, 1.0, 1.0, 1.0, 1.0, 1.0, 1.0, 1.0, 1.0, 1.0, 1.0],
    [1.1, 1.3, 1.2, 1.1, 1.0, 0.9, 0.9, 1.0, 1.0, 1.1, 1.1, 1.2, 1.2, 1.2, 1.2, 1.2, 1.2, 1.3, 1.3, 1.3, 1.3, 1.3, 1.3],
    [1.5, 1.8, 1.7, 1.4, 1.2, 1.1, 1.1, 1.2, 1.3, 1.4, 1.5, 1.6, 1.7, 1.8, 1.8, 1.8, 1.8, 1.8, 1.8, 1.8, 1.8, 1.8, 1.9, 1.9],
    [2.6, 3.4, 3.0, 2.2, 1.5, 1.1, 1.0, 1.0, 1.1, 1.1, 1.2, 1.2, 1.2, 1.3, 1.3, 1.3, 1.3, 1.3, 1.3, 1.3, 1.3, 1.3, 1.3, 1.3],
    [2.4, 3.3, 3.5, 2.9, 2.1, 1.4, 1.1, 1.1, 1.2, 1.2, 1.3, 1.3, 1.3, 1.3, 1.4, 1.4, 1.4, 1.4, 1.5, 1.5, 1.5, 1.5, 1.6, 1.6],
]


def draw_intervals(ax, cells, colors):
    for vals, name in zip(cells, colors):
        c = COL[name]
        gen = list(range(1, len(vals) + 1))
        sns.lineplot(x=gen, y=vals, ax=ax, color=c, lw=0.7, alpha=0.85, marker="o", ms=6.3,
                     mfc="none", mec=c, mew=0.7)
        ax.plot(gen[-1], vals[-1], "o", ms=6.3, mfc=END_FILL, mec=c, mew=0.7)


def draw_activity(ax, cells, colors):
    for vals, name in zip(cells, colors):
        c = COL[name]
        t = T_GRID[:len(vals)]
        sns.lineplot(x=t, y=vals, ax=ax, color=c, lw=0.9, alpha=0.9)
        ax.plot(t[-1], vals[-1], "o", ms=7.5, mfc=END_FILL, mec=c, mew=1.1, zorder=5)


def style(ax, xmax, ymax, xstep, ystep, xlabel, ylabel, tag):
    ax.set_xlim(0, xmax)
    ax.set_ylim(0, ymax)
    ax.set_xticks(range(0, xmax + 1, xstep))
    ax.set_yticks(range(0, ymax + 1, ystep))
    ax.tick_params(direction="in", top=True, right=True, length=4, width=1,
                   color="#444444", labelsize=15, pad=5)
    for s in ax.spines.values():
        s.set_color("#777777")
        s.set_linewidth(1.2)
    ax.set_xlabel(xlabel, fontsize=14, labelpad=6)
    ax.set_ylabel(ylabel, fontsize=14, labelpad=4)
    ax.text(0.895, 0.9, tag, transform=ax.transAxes, ha="center", va="center", fontsize=14.5,
            bbox=dict(boxstyle="square,pad=0.35", fc="white", ec="black", lw=1))


fig = plt.figure(figsize=(10.5, 8.62), dpi=100)
ax_a = fig.add_axes([0.059, 0.586, 0.401, 0.375])
ax_b = fig.add_axes([0.5886, 0.586, 0.399, 0.375])
ax_c = fig.add_axes([0.059, 0.065, 0.401, 0.375])
ax_d = fig.add_axes([0.5886, 0.065, 0.399, 0.375])

draw_intervals(ax_a, A_CELLS, A_COLORS)
draw_intervals(ax_b, B_CELLS, B_COLORS)
draw_activity(ax_c, C_CELLS, C_COLORS)
draw_activity(ax_d, D_CELLS, D_COLORS)

style(ax_a, 40, 7, 10, 1, "Generation", "Time Interval (hours)", "WT")
style(ax_b, 40, 7, 10, 1, "Generation", "Time Interval (hours)", "D fob1")
style(ax_c, 50, 20, 10, 5, "Time (hours)", "MSN2/4 acitivity (AU)", "WT")
style(ax_d, 50, 20, 10, 5, "Time (hours)", "MSN2/4 acitivity (AU)", "D fob1")

for letter, x, y in [("a", 0.0, 0.984), ("b", 0.522, 0.984), ("c", 0.0, 0.466), ("d", 0.522, 0.466)]:
    fig.text(x, y, letter, fontsize=20, ha="left", va="center")

fig.savefig("out.png", dpi=100)
